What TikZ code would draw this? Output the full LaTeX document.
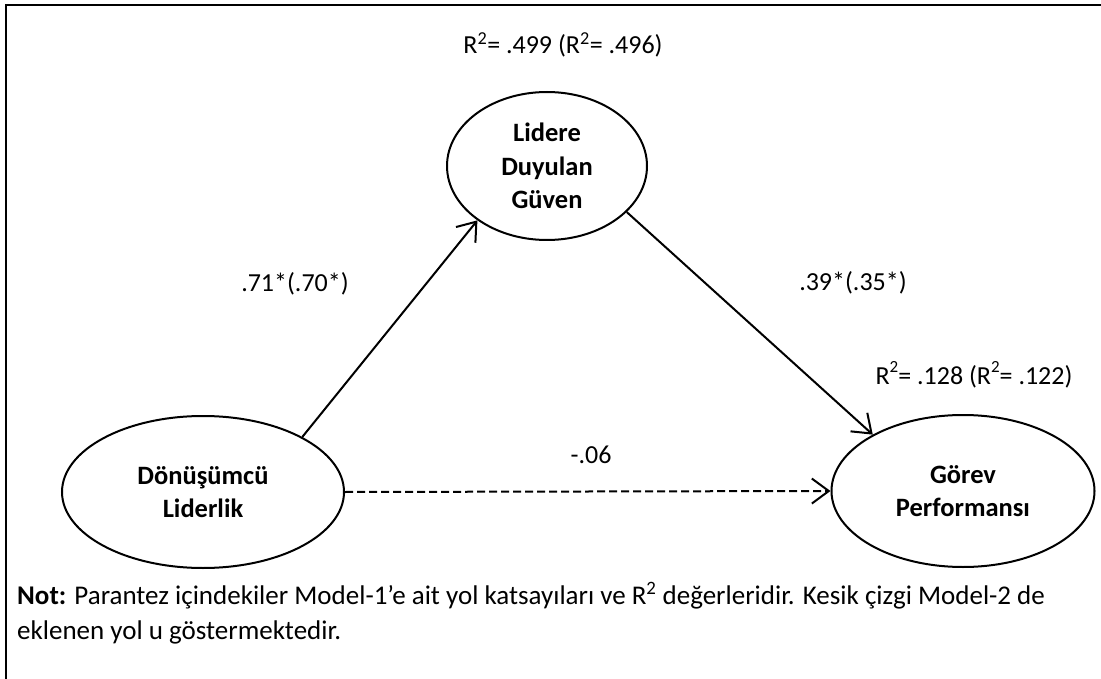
\documentclass[tikz,border=0pt]{standalone}
\usepackage{fontspec}
\setmainfont{Carlito}
\usetikzlibrary{shapes.geometric,arrows.meta}
\begin{document}
\begin{tikzpicture}[x=1pt,y=-1pt,
  construct/.style={ellipse,draw,line width=2pt,inner sep=0pt,align=center,
    font=\fontsize{26.5}{33.5}\selectfont\bfseries},
  coef/.style={font=\fontsize{26}{32}\selectfont,inner sep=0pt},
  notetext/.style={font=\fontsize{27}{33}\selectfont,inner sep=0pt},
  path/.style={line width=2pt,-{Straight Barb[length=17pt,width=25pt,line width=2pt]}},
  frame/.style={line width=2pt}]
\useasboundingbox (0,0) rectangle (1101,679);
\draw[frame] (6,679) -- (6,5) -- (1101,5);

% latent constructs
\node[construct,minimum width=200pt,minimum height=148pt] (trust) at (547,166)
  {Lidere\\Duyulan\\Güven};
\node[construct,minimum width=282pt,minimum height=152pt] (lead) at (203,492)
  {Dönüşümcü\\Liderlik};
\node[construct,minimum width=263pt,minimum height=152pt] (perf) at (963,491)
  {Görev\\Performansı};

% structural paths
\draw[path] (lead.29) -- (trust.218);
\draw[path] (trust.330) -- (perf.148);
\draw[path,dash pattern=on 8pt off 4pt] (lead.east) -- (perf.west);

% coefficients and explained variance
\node[coef] (r2trust) at (563,45) {R\textsuperscript{2}= .499 (R\textsuperscript{2}= .496)};
\node[coef] (c1) at (295,284) {.71*(.70*)};
\node[coef] (c2) at (853,283) {.39*(.35*)};
\node[coef] (c3) at (591,455) {-.06};
\node[coef] (r2perf) at (974,375)
  {R\raisebox{1.0ex}{\fontsize{17}{17}\selectfont 2}= .128 (R\raisebox{1.0ex}{\fontsize{17}{17}\selectfont 2}= .122)};

% footnote
\node[notetext,anchor=base west] (note1) at (17,604)
  {\textbf{Not:} Parantez içindekiler Model-1’e ait yol katsayıları ve R\textsuperscript{2} değerleridir. Kesik çizgi Model-2 de};
\node[notetext,anchor=base west] (note2) at (17,639) {eklenen yol u göstermektedir.};
\end{tikzpicture}
\end{document}
